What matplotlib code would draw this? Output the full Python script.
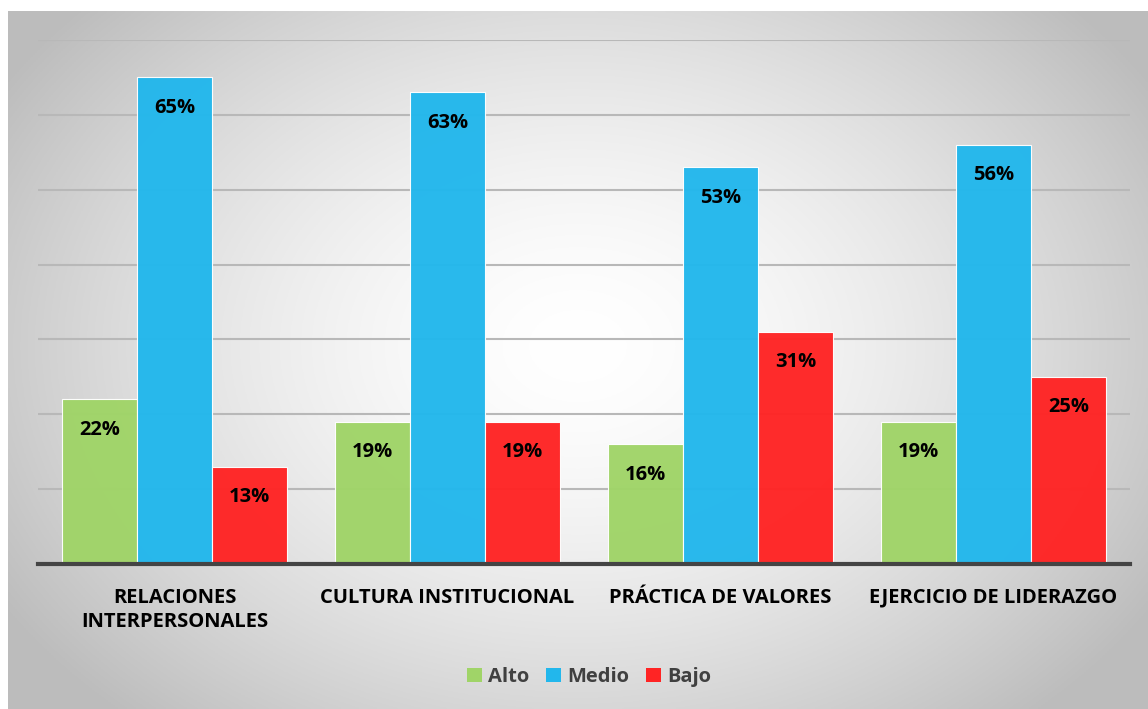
import matplotlib.pyplot as plt
import numpy as np
from matplotlib.patches import Patch

plt.rcParams['font.family'] = ['Open Sans', 'DejaVu Sans']

categories = ['RELACIONES\nINTERPERSONALES', 'CULTURA INSTITUCIONAL',
              'PRÁCTICA DE VALORES', 'EJERCICIO DE LIDERAZGO']
series_names = ['Alto', 'Medio', 'Bajo']
alto = [22, 19, 16, 19]
medio = [65, 63, 53, 56]
bajo = [13, 19, 31, 25]
colors = ['#A0D468', '#22B7EC', '#FF2424']

fig = plt.figure(figsize=(11.48, 7.09), dpi=100)

# gray radial-gradient panel behind the chart
bg = fig.add_axes([8 / 1148, 0, 1140 / 1148, 698 / 709], zorder=0)
yy, xx = np.mgrid[0:1:300j, 0:1:500j]
r = np.sqrt(((xx - 0.5) / 0.62) ** 2 + ((yy - 0.52) / 0.75) ** 2)
shade = np.clip(1.0 - 0.28 * r ** 1.6, 0.74, 1.0)
bg.imshow(np.dstack([shade] * 3), extent=[0, 1, 0, 1], aspect='auto', origin='lower')
bg.set_axis_off()

ax = fig.add_axes([38 / 1148, 1 - 564 / 709, 1092 / 1148, 524 / 709], zorder=1)
ax.set_facecolor('none')

x = np.arange(len(categories))
width = 0.275
for i, (vals, name, c) in enumerate(zip([alto, medio, bajo], series_names, colors)):
    bars = ax.bar(x + (i - 1) * width, vals, width, color=c, edgecolor='#ffffff',
                  linewidth=0.8, label=name, zorder=3, alpha=0.97)
    for b, v in zip(bars, vals):
        ax.annotate(f'{v}%', (b.get_x() + b.get_width() / 2, v), xytext=(0, -22),
                    textcoords='offset points', ha='center', va='center',
                    fontsize=14.5, fontweight='bold', color='black', zorder=4)

ax.set_xlim(-0.5, 3.5)
ax.set_ylim(0, 70)
ax.set_yticks(np.arange(0, 71, 10))
ax.set_yticklabels([])
ax.tick_params(axis='y', length=0)
ax.grid(axis='y', color='#b8b8b8', linewidth=1.5, zorder=0)
ax.set_xticks(x)
ax.set_xticklabels(categories, fontsize=14.5, fontweight='bold', color='black', linespacing=1.3)
ax.tick_params(axis='x', length=0, pad=17)
for s in ['top', 'right', 'left']:
    ax.spines[s].set_visible(False)
ax.spines['bottom'].set_color('#444444')
ax.spines['bottom'].set_linewidth(3)
ax.spines['bottom'].set_zorder(5)

handles = [Patch(facecolor=c, edgecolor='none') for c in colors]
fig.legend(handles, series_names, loc='center', bbox_to_anchor=(589 / 1148, 1 - 677 / 709),
           ncol=3, frameon=False, handlelength=0.75, handleheight=0.75, handletextpad=0.3,
           columnspacing=0.85, prop={'size': 14.5, 'weight': 'bold'}, labelcolor='#404040')

fig.savefig('out.png', dpi=100)
